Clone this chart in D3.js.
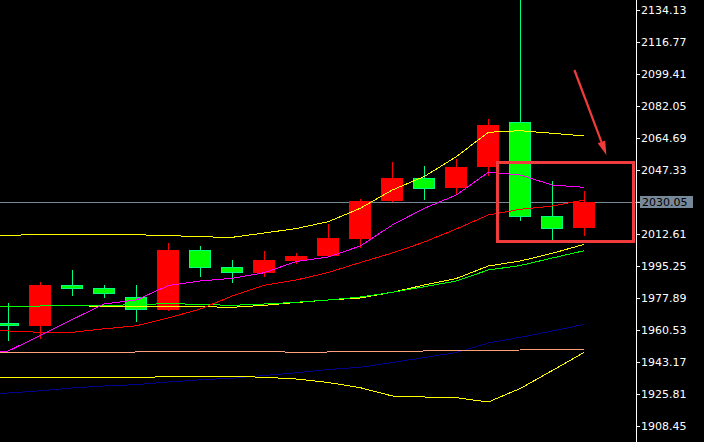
<!DOCTYPE html>
<html>
<head>
<meta charset="utf-8">
<script src="https://cdn.jsdelivr.net/npm/d3@7"></script>
<style>
  body { margin: 0; background: #000; }
  svg { display: block; }
</style>
</head>
<body>
<div id="main"></div>
<script>
//size of the window
const width = 704;
const height = 442;
const axisX = 636;

//candles, bar 1..19 (bar 0 is just off the left edge)
const bars = d3.range(1, 20);
const open  = [1964.33, 1962.86, 1984.94, 1983.31, 1978.43, 1971.54, 2003.93, 1994.71, 1991.62, 1997.96, 2000.84, 2010.06, 2030.51, 2042.99, 2037.73, 2049.12, 2073.37, 2022.37, 2016.03];
const high  = [1975.18, 1986.57, 1993.08, 1984.94, 1984.94, 2007.73, 2006.10, 1998.50, 2003.39, 2002.30, 2018.20, 2031.43, 2051.67, 2049.50, 2053.30, 2075.00, 2141.00, 2041.53, 2036.10];
const low   = [1954.73, 1955.81, 1979.14, 1978.05, 1965.03, 1971.00, 1989.45, 1986.19, 1989.45, 1996.50, 2000.20, 2005.18, 2029.97, 2031.05, 2033.93, 2044.24, 2019.83, 2009.52, 2011.69];
const close = [1962.86, 1984.94, 1982.94, 1980.22, 1971.54, 2003.93, 1994.33, 1991.62, 1998.50, 2000.67, 2010.44, 2030.51, 2042.99, 2037.19, 2048.96, 2071.74, 2022.00, 2015.49, 2030.05];

//indicator lines, bar 0..19
const lineBars = d3.range(0, 20);
const yellowUpper = [2011.25, 2011.80, 2012.45, 2012.45, 2012.45, 2012.18, 2011.80, 2011.09, 2010.82, 2013.15, 2015.59, 2019.28, 2026.55, 2036.48, 2043.80, 2054.54, 2067.78, 2068.65, 2067.24, 2065.78];
const magentaMA   = [1948.33, 1949.14, 1957.55, 1966.23, 1974.64, 1976.81, 1984.68, 1987.12, 1988.58, 1991.62, 1997.69, 2000.14, 2006.10, 2017.49, 2026.55, 2033.77, 2046.08, 2044.62, 2039.19, 2037.94];
const redMA       = [1961.07, 1959.99, 1959.28, 1959.28, 1961.18, 1962.81, 1967.04, 1971.92, 1978.97, 1984.78, 1987.65, 1991.72, 1997.15, 2002.30, 2008.27, 2015.32, 2022.92, 2026.01, 2027.80, 2031.06];
const limeMA      = [1972.73, 1973.11, 1973.55, 1973.82, 1973.93, 1974.20, 1974.91, 1974.36, 1973.93, 1974.64, 1975.56, 1976.81, 1978.43, 1980.98, 1984.02, 1987.12, 1993.08, 1995.52, 1999.59, 2003.56];
const yellowMid   = [1973.17, 1973.17, 1973.55, 1973.71, 1973.39, 1973.39, 1973.28, 1973.17, 1972.84, 1973.93, 1975.45, 1976.81, 1977.89, 1980.98, 1984.94, 1988.47, 1995.25, 1997.96, 2002.14, 2007.02];
const salmonMA    = [1948.43, 1948.43, 1948.43, 1948.43, 1948.43, 1948.60, 1948.97, 1948.97, 1948.97, 1948.87, 1948.43, 1948.60, 1948.97, 1948.97, 1949.14, 1949.52, 1949.52, 1949.68, 1950.06, 1950.06];
const navyMA      = [1925.54, 1926.35, 1927.55, 1929.07, 1930.15, 1930.91, 1932.32, 1933.51, 1934.38, 1935.85, 1937.31, 1939.10, 1940.30, 1942.90, 1945.61, 1948.33, 1953.48, 1956.57, 1959.99, 1963.62];
const yellowLower = [1934.87, 1934.87, 1934.87, 1934.87, 1934.87, 1934.87, 1935.15, 1935.42, 1935.42, 1934.87, 1933.95, 1932.05, 1929.23, 1924.73, 1924.19, 1923.81, 1921.47, 1928.80, 1938.56, 1948.43];

//price axis labels and last price
const tickLabels = ["2134.13", "2116.77", "2099.41", "2082.05", "2064.69", "2047.33", "2012.61",
                    "1995.25", "1977.89", "1960.53", "1943.17", "1925.81", "1908.45"];
const lastPrice = 2030.05;

//annotation box and arrow (bar index / price)
const boxBars = [16.29, 20.54];
const boxPrices = [2051.40, 2008.38];
const arrowBars = [18.69, 19.69];
const arrowPrices = [2101.58, 2055.47];

const svg = d3.select('#main')
              .append('svg')
              .attr('width', width)
              .attr('height', height)
              .style('background', '#000');

//scales
const xScale = d3.scaleLinear().domain([1, 19]).range([8.3, 584.3]);
const yScale = d3.scaleLinear().domain([2134.13, 1908.45]).range([10, 426]);

//last price line (behind candles)
svg.append('line')
   .attr('x1', 0).attr('x2', axisX)
   .attr('y1', Math.round(yScale(lastPrice)) + 0.5)
   .attr('y2', Math.round(yScale(lastPrice)) + 0.5)
   .attr('stroke', '#778899')
   .attr('stroke-width', 1);

//candles
const candles = svg.append('g').attr('shape-rendering', 'crispEdges')
  .selectAll('g').data(bars).enter().append('g');

const isUp = (d, i) => close[i] >= open[i];

candles.append('line')
  .attr('x1', (d) => Math.round(xScale(d)) + 0.5)
  .attr('x2', (d) => Math.round(xScale(d)) + 0.5)
  .attr('y1', (d, i) => Math.round(yScale(high[i])))
  .attr('y2', (d, i) => Math.round(yScale(low[i])))
  .attr('stroke', (d, i) => isUp(d, i) ? '#ff0000' : '#00ff80')
  .attr('stroke-width', 1);

candles.append('rect')
  .attr('x', (d) => Math.round(xScale(d)) - 11 + 0.5)
  .attr('y', (d, i) => Math.round(yScale(Math.max(open[i], close[i]))) + 0.5)
  .attr('width', 21)
  .attr('height', (d, i) => Math.max(1, Math.round(yScale(Math.min(open[i], close[i]))) - Math.round(yScale(Math.max(open[i], close[i]))) - 1))
  .attr('fill', (d, i) => isUp(d, i) ? '#ff0000' : '#00ff00')
  .attr('stroke', (d, i) => isUp(d, i) ? '#ff0000' : '#00ff80')
  .attr('stroke-width', 1);

//indicator lines
const line = d3.line()
  .x((d, i) => xScale(lineBars[i]))
  .y((d) => yScale(d));

const series = [
  [navyMA, '#00008b'],
  [salmonMA, '#ffa07a'],
  [yellowLower, '#ffff00'],
  [yellowMid, '#ffff00'],
  [limeMA, '#00ff00'],
  [redMA, '#ff0000'],
  [magentaMA, '#ff00ff'],
  [yellowUpper, '#ffff00']
];

svg.append('g').selectAll('path').data(series).enter()
  .append('path')
  .attr('d', (d) => line(d[0]))
  .attr('fill', 'none')
  .attr('stroke', (d) => d[1])
  .attr('stroke-width', 1)
  .attr('shape-rendering', 'crispEdges');

//annotation box
const bx0 = xScale(boxBars[0]), bx1 = xScale(boxBars[1]);
const by0 = yScale(boxPrices[0]), by1 = yScale(boxPrices[1]);
svg.append('rect')
  .attr('x', bx0).attr('y', by0)
  .attr('width', bx1 - bx0).attr('height', by1 - by0)
  .attr('fill', 'none')
  .attr('stroke', '#f03c3c')
  .attr('stroke-width', 3)
  .attr('shape-rendering', 'crispEdges');

//arrow
const ax0 = xScale(arrowBars[0]), ay0 = yScale(arrowPrices[0]);
const ax1 = xScale(arrowBars[1]), ay1 = yScale(arrowPrices[1]);
const len = Math.hypot(ax1 - ax0, ay1 - ay0);
const ux = (ax1 - ax0) / len, uy = (ay1 - ay0) / len;
const bxh = ax1 - ux * 14, byh = ay1 - uy * 14;
svg.append('path')
  .attr('d', `M${ax0},${ay0} L${bxh},${byh}`)
  .attr('stroke', '#f03c3c')
  .attr('stroke-width', 2.2)
  .attr('fill', 'none');
svg.append('path')
  .attr('d', `M${ax1},${ay1} L${bxh + uy * 4},${byh - ux * 4} L${bxh - uy * 4},${byh + ux * 4} Z`)
  .attr('fill', '#f03c3c');

//price axis
svg.append('line')
  .attr('x1', axisX + 0.5).attr('x2', axisX + 0.5)
  .attr('y1', 0).attr('y2', height)
  .attr('stroke', '#ffffff')
  .attr('stroke-width', 1);

const yAxis = d3.axisRight(yScale)
  .tickValues(tickLabels.map(Number).concat([lastPrice]))
  .tickSize(4)
  .tickSizeOuter(0)
  .tickPadding(1)
  .tickFormat((d) => d === lastPrice ? '' : d3.format('.2f')(d));

const axisG = svg.append('g')
  .attr('transform', 'translate(' + axisX + ',0)')
  .call(yAxis);
axisG.select('.domain').remove();
axisG.selectAll('line').attr('stroke', '#ffffff');
axisG.selectAll('text')
  .attr('fill', '#ffffff')
  .style('font-family', '"DejaVu Sans", sans-serif')
  .style('font-size', '11px');

//last price label
const ly = Math.round(yScale(lastPrice));
svg.append('rect')
  .attr('x', 640).attr('y', ly - 6)
  .attr('width', 53).attr('height', 12)
  .attr('fill', '#778899');
svg.append('text')
  .attr('x', 642).attr('y', ly)
  .attr('dy', '0.36em')
  .attr('fill', '#000000')
  .style('font-family', '"DejaVu Sans", sans-serif')
  .style('font-size', '11px')
  .text(d3.format('.2f')(lastPrice));
</script>
</body>
</html>
